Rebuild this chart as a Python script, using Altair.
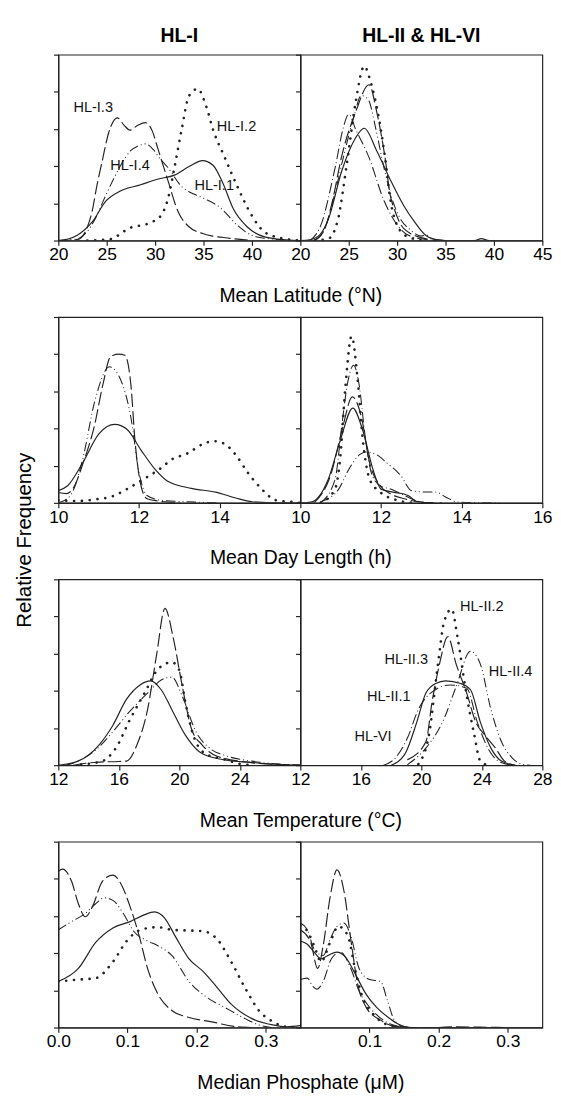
import altair as alt
import pandas as pd

# ---------------- data (x, relative frequency) ----------------
# Row 1: Mean latitude (°N)
lat_I1 = [(20,0),(21,0.04),(22,0.15),(23.5,0.5),(24.9,1.06),(26.3,1.32),(28.5,1.5),(30.25,1.65),(32,1.76),(33.5,1.99),(34.9,2.15),(36,2.02),(37,1.54),(38.1,0.84),(39.5,0.37),(41.3,0.1),(43.5,0.02),(45,0.0)]
lat_I2 = [(23.0,0.0),(25.25,0.03),(27.4,0.34),(29.5,0.48),(30.6,0.67),(31.3,1.1),(32.0,1.97),(32.75,3.0),(33.5,3.89),(34.4,4.08),(35.25,3.63),(36.0,2.97),(37.2,2.23),(38.5,1.45),(39.9,0.71),(41.3,0.23),(43.1,0.06),(45,0.0)]
lat_I3 = [(20,0),(22,0.03),(22.9,0.3),(23.5,0.8),(24,1.5),(24.5,2.1),(25.2,2.9),(26.1,3.3),(26.8,3.1),(27.4,2.97),(28.2,3.1),(29.0,3.17),(29.7,2.95),(30.25,2.5),(31.3,1.63),(32.4,0.76),(33.5,0.37),(34.9,0.19),(37.75,0.06),(40,0.0)]
lat_I4 = [(20,0),(22,0.05),(23.0,0.25),(23.8,0.58),(24.7,1.1),(25.6,1.6),(26.5,2.05),(27.4,2.4),(28.3,2.55),(29.0,2.6),(29.8,2.45),(30.5,2.2),(31.3,1.97),(32.75,1.45),(34.0,1.25),(34.9,1.15),(36.7,0.89),(38.5,0.41),(39.9,0.15),(41.7,0.05),(45,0.0)]
lat_II1 = [(20,0),(21,0.02),(22.0,0.15),(22.9,0.58),(24.3,1.89),(25.7,2.76),(26.6,3.02),(27.9,2.41),(29.3,1.63),(30.7,0.93),(31.8,0.5),(32.9,0.15),(33.9,0.03),(35,0),(38,0.0),(38.7,0.05),(39.5,0.0),(45,0)]
lat_II2 = [(21.5,0),(22.9,0.05),(23.9,0.58),(24.8,2.06),(25.7,3.7),(26.6,4.69),(27.3,4.23),(28.0,3.45),(28.75,2.23),(29.3,1.1),(30,0.41),(31.1,0.1),(32.9,0)]
lat_II3 = [(21.4,0),(22.5,0.3),(23.2,0.93),(24.3,2.3),(25.7,3.45),(27.1,4.19),(27.9,3.45),(28.75,2.23),(29.3,1.2),(29.7,0.85),(30.7,0.32),(32.9,0.05),(34,0)]
lat_II4 = [(21.5,0),(22.5,0.3),(23.5,1.2),(24.5,2.3),(25.5,3.3),(26.3,3.9),(27.0,3.8),(27.8,3.0),(28.6,2.0),(29.5,1.1),(30.3,0.6),(31.3,0.3),(32.5,0.12),(33.0,0.15),(33.6,0.05),(35,0)]
lat_VI = [(21,0),(22.1,0.4),(23.6,1.97),(24.5,3.1),(25.0,3.4),(25.7,3.0),(27.1,2.23),(28.6,1.1),(29.6,0.58),(31.1,0.15),(32.9,0.03),(34,0)]

# Row 2: Mean day length (h)
day_I1 = [(10,0.33),(10.23,0.46),(10.6,1.07),(11.0,1.85),(11.4,2.11),(11.7,1.98),(12.05,1.42),(12.4,0.9),(12.7,0.59),(13.3,0.39),(13.9,0.29),(14.4,0.13),(14.8,0.03),(15.5,0),(16,0)]
day_I2 = [(10,0.07),(10.5,0.05),(10.9,0.09),(11.35,0.18),(11.7,0.37),(12.1,0.63),(12.55,0.94),(12.8,1.16),(13.2,1.33),(13.6,1.59),(13.85,1.66),(14.1,1.6),(14.4,1.29),(14.7,0.81),(15.0,0.42),(15.4,0.07),(15.75,0.03),(16,0.0)]
day_I3 = [(10,0.28),(10.2,0.25),(10.4,0.45),(10.6,1.03),(10.9,2.1),(11.1,3.16),(11.3,3.94),(11.5,4.0),(11.65,3.97),(11.8,3.16),(11.9,1.68),(12.05,0.46),(12.2,0.11),(12.55,0.04),(13,0)]
day_I4 = [(10,0),(10.3,0.2),(10.6,1.16),(10.9,2.72),(11.27,3.66),(11.6,3.16),(11.8,2.29),(12.0,0.81),(12.2,0.2),(12.55,0.07),(13.2,0.03),(14,0)]
day_II1 = [(10,0),(10.26,0.02),(10.69,0.63),(10.99,1.68),(11.3,2.55),(11.55,1.94),(11.8,0.9),(12.0,0.37),(12.3,0.29),(12.67,0.2),(12.9,0.03),(13.3,0)]
day_II2 = [(10.5,0),(10.86,0.37),(10.99,1.24),(11.12,3.16),(11.27,4.48),(11.42,3.33),(11.55,1.68),(11.72,0.63),(11.98,0.29),(12.4,0.07),(12.8,0)]
day_II3 = [(10.34,0),(10.77,0.81),(11.03,1.94),(11.29,2.85),(11.5,2.37),(11.72,1.07),(11.98,0.46),(12.24,0.24),(12.58,0.11),(12.93,0.03),(13.3,0)]
day_II4 = [(10.5,0.03),(10.95,0.37),(11.2,0.9),(11.46,1.29),(11.63,1.37),(11.9,1.29),(12.15,1.07),(12.5,0.72),(12.75,0.33),(13.1,0.29),(13.36,0.29),(13.6,0.16),(13.87,0.03),(14.2,0.01),(15,0)]
day_VI = [(10.5,0),(10.86,0.63),(11.03,2.1),(11.16,3.16),(11.32,3.7),(11.46,3.16),(11.6,1.85),(11.76,0.81),(11.98,0.46),(12.24,0.37),(12.5,0.24),(12.84,0.07),(13.1,0.01),(13.5,0)]

# Row 3: Mean temperature (°C)
tmp_I1 = [(12,0),(13.3,0.11),(14.7,0.55),(15.6,1.07),(16.5,1.77),(17.4,2.16),(18.1,2.27),(18.8,2.03),(19.5,1.5),(20.4,0.81),(21.3,0.37),(22.5,0.18),(24.8,0.07),(27.1,0.01),(28,0)]
tmp_I2 = [(13.5,0.02),(14.9,0.11),(15.8,0.46),(16.75,1.24),(17.7,1.94),(18.6,2.59),(19.5,2.77),(20.0,2.55),(20.4,1.68),(21.0,0.72),(21.8,0.29),(22.95,0.16),(24.1,0.03),(25,0)]
tmp_I3 = [(13,0),(14.5,0.08),(16.0,0.1),(16.5,0.11),(17.2,0.55),(17.9,1.5),(18.5,2.98),(19.05,4.22),(19.6,3.42),(20.2,2.11),(20.8,0.98),(21.5,0.55),(22.5,0.24),(24.8,0.07),(28,0)]
tmp_I4 = [(12.5,0),(13.3,0.11),(14.5,0.42),(15.6,0.9),(16.75,1.46),(17.9,1.94),(18.8,2.29),(19.5,2.37),(20.2,1.85),(21.1,0.9),(22.0,0.46),(23.2,0.24),(24.8,0.11),(26.6,0.03),(28,0)]
tmp_II1 = [(18.0,0),(18.9,0.29),(19.7,1.16),(20.3,1.94),(20.95,2.2),(21.6,2.27),(22.6,2.2),(23.25,2.03),(23.9,1.16),(24.6,0.46),(25.3,0.11),(26.2,0)]
tmp_II2 = [(19.8,0.03),(20.5,0.81),(21.1,2.72),(21.5,3.85),(22.0,4.2),(22.4,3.42),(22.9,2.11),(23.5,0.81),(23.9,0.11),(24.4,0)]
tmp_II3 = [(19.1,0.15),(20.3,0.63),(20.7,1.68),(21.2,2.72),(21.75,3.46),(22.3,2.72),(23.0,1.94),(23.6,1.16),(24.2,0.81),(24.9,0.46),(25.5,0.11),(26.2,0)]
tmp_II4 = [(19.1,0.02),(20.3,0.46),(21.4,1.16),(22.3,2.11),(23.25,3.07),(23.9,2.72),(24.6,1.5),(25.3,0.63),(26.0,0.2),(26.7,0.02),(27.2,0)]
tmp_VI = [(17.5,0.0),(18.2,0.16),(19.1,0.75),(19.8,1.5),(20.5,1.9),(21.9,2.16),(23.0,2.07),(23.7,1.16),(24.4,0.46),(25.1,0.11),(26,0)]

# Row 4: Median phosphate (µM)
pho_I1 = [(0,1.24),(0.029,1.59),(0.054,2.29),(0.079,2.68),(0.104,2.85),(0.124,3.03),(0.139,3.11),(0.154,2.94),(0.169,2.46),(0.189,1.85),(0.21,1.5),(0.23,1.07),(0.25,0.63),(0.28,0.24),(0.31,0.07),(0.33,0.02),(0.35,0.05)]
pho_I2 = [(0,1.24),(0.029,1.29),(0.054,1.33),(0.079,1.77),(0.099,2.33),(0.119,2.63),(0.144,2.7),(0.164,2.63),(0.189,2.61),(0.21,2.59),(0.23,2.37),(0.25,1.77),(0.27,1.07),(0.29,0.46),(0.31,0.16),(0.33,0.02),(0.35,0)]
pho_I3 = [(0,4.2),(0.006,4.26),(0.019,3.94),(0.029,3.33),(0.039,2.98),(0.049,3.24),(0.064,3.94),(0.079,4.1),(0.091,3.85),(0.104,3.24),(0.117,2.46),(0.129,1.59),(0.144,0.9),(0.164,0.46),(0.189,0.27),(0.22,0.16),(0.255,0.03),(0.28,0)]
pho_I4 = [(0,2.63),(0.019,2.85),(0.039,3.07),(0.054,3.33),(0.066,3.49),(0.079,3.42),(0.094,3.07),(0.109,2.59),(0.129,2.33),(0.144,2.2),(0.164,1.94),(0.189,1.24),(0.215,0.81),(0.24,0.55),(0.27,0.24),(0.29,0.07),(0.31,0)]
pho_II1 = [(0,2.33),(0.01,2.24),(0.02,2.03),(0.03,1.85),(0.04,1.94),(0.053,2.03),(0.065,1.9),(0.08,1.42),(0.095,0.9),(0.11,0.55),(0.126,0.29),(0.14,0.11),(0.16,0.0),(0.35,0)]
pho_II2 = [(0,2.75),(0.01,2.6),(0.02,2.2),(0.03,1.77),(0.043,2.29),(0.055,2.72),(0.068,2.5),(0.08,1.5),(0.09,0.81),(0.105,0.37),(0.13,0.05),(0.15,0)]
pho_II3 = [(0,2.63),(0.015,2.29),(0.025,1.59),(0.033,2.2),(0.043,3.5),(0.053,4.24),(0.063,3.68),(0.073,2.37),(0.083,1.16),(0.095,0.55),(0.116,0.2),(0.136,0.03),(0.16,0),(0.2,0),(0.22,0.02),(0.26,0.01),(0.3,0)]
pho_II4 = [(0,2.81),(0.01,2.63),(0.02,2.11),(0.033,1.94),(0.043,2.37),(0.053,2.72),(0.063,2.81),(0.073,2.46),(0.085,1.59),(0.1,1.29),(0.116,1.24),(0.126,0.72),(0.136,0.2),(0.15,0.02),(0.17,0)]
pho_VI = [(0,1.29),(0.01,1.33),(0.018,1.11),(0.024,1.03),(0.033,1.24),(0.045,1.85),(0.058,2.03),(0.073,1.59),(0.085,0.98),(0.1,0.55),(0.12,0.2),(0.146,0.02),(0.16,0)]

# curve annotations (label, x, y)
labels_lat_left = [("HL-I.3", 23.6, 3.6), ("HL-I.2", 38.4, 3.08), ("HL-I.4", 27.4, 2.03), ("HL-I.1", 36.1, 1.5)]
labels_tmp_right = [("HL-II.2", 24.0, 4.29), ("HL-II.3", 19.0, 2.85), ("HL-II.4", 25.9, 2.53), ("HL-II.1", 17.85, 1.85), ("HL-VI", 16.8, 0.77)]

COL_TITLES = ["HL-I", "HL-II & HL-VI"]
Y_TITLE = "Relative Frequency"

style_of = {"HL-I.1": "solid", "HL-I.2": "dot", "HL-I.3": "dash", "HL-I.4": "dashdotdot",
            "HL-II.1": "solid", "HL-II.2": "dot", "HL-II.3": "dash", "HL-II.4": "dashdotdot", "HL-VI": "dashdot"}

rows = [
    dict(title="Mean Latitude (°N)", dom=[20, 45], lv=[20, 25, 30, 35, 40], rv=[20, 25, 30, 35, 40, 45], fmt="d",
         left={"HL-I.1": lat_I1, "HL-I.2": lat_I2, "HL-I.3": lat_I3, "HL-I.4": lat_I4},
         right={"HL-II.1": lat_II1, "HL-II.2": lat_II2, "HL-II.3": lat_II3, "HL-II.4": lat_II4, "HL-VI": lat_VI},
         llab=labels_lat_left, rlab=None),
    dict(title="Mean Day Length (h)", dom=[10, 16], lv=[10, 12, 14], rv=[10, 12, 14, 16], fmt="d",
         left={"HL-I.1": day_I1, "HL-I.2": day_I2, "HL-I.3": day_I3, "HL-I.4": day_I4},
         right={"HL-II.1": day_II1, "HL-II.2": day_II2, "HL-II.3": day_II3, "HL-II.4": day_II4, "HL-VI": day_VI},
         llab=None, rlab=None),
    dict(title="Mean Temperature (°C)", dom=[12, 28], lv=[12, 16, 20, 24], rv=[12, 16, 20, 24, 28], fmt="d",
         left={"HL-I.1": tmp_I1, "HL-I.2": tmp_I2, "HL-I.3": tmp_I3, "HL-I.4": tmp_I4},
         right={"HL-II.1": tmp_II1, "HL-II.2": tmp_II2, "HL-II.3": tmp_II3, "HL-II.4": tmp_II4, "HL-VI": tmp_VI},
         llab=None, rlab=labels_tmp_right),
    dict(title="Median Phosphate (μM)", dom=[0, 0.35], lv=[0.0, 0.1, 0.2, 0.3], rv=[0.1, 0.2, 0.3], fmt=".1f",
         left={"HL-I.1": pho_I1, "HL-I.2": pho_I2, "HL-I.3": pho_I3, "HL-I.4": pho_I4},
         right={"HL-II.1": pho_II1, "HL-II.2": pho_II2, "HL-II.3": pho_II3, "HL-II.4": pho_II4, "HL-VI": pho_VI},
         llab=None, rlab=None),
]

FONT = "Liberation Sans"
INK = "#222222"
W, H = 250, 192
# line style -> (dash pattern, stroke width)
STYLE_PROPS = {
    "solid": (None, 1.2),
    "dot": ([0.1, 8], 2.7),
    "dash": ([13, 5], 1.2),
    "dashdotdot": ([9, 4, 0.1, 4, 0.1, 4], 1.1),
    "dashdot": ([10, 4, 0.1, 4], 1.1),
}


def to_df(series):
    recs = []
    for name, pts in series.items():
        for i, (x, y) in enumerate(pts):
            recs.append({"series": name, "style": style_of[name], "x": x, "y": y, "i": i})
    return pd.DataFrame(recs)


def panel(series, dom, vals, fmt, xtitle=None, coltitle=None, labels=None):
    xs = alt.Scale(domain=dom, nice=False, zero=False)
    ys = alt.Scale(domain=[0, 5], nice=False)
    ax = dict(values=vals, format=fmt, tickSize=5, labelPadding=1, labelFontSize=18, labelFont=FONT,
              grid=False, labelFlush=False)
    if xtitle:
        ax.update(title=xtitle, titleX=W, titleAlign="center", titlePadding=23, titleFontSize=20,
                  titleFontWeight="normal", titleFont=FONT, titleColor="#000")
    else:
        ax.update(title=None)
    X = alt.X("x:Q", scale=xs, axis=alt.Axis(**ax))
    Y = alt.Y("y:Q", scale=ys, axis=alt.Axis(values=[0, 1, 2, 3, 4, 5], labels=False, tickSize=5,
                                             title=None, grid=False))
    df = to_df(series)
    layers = []
    for st, (dash, sw) in STYLE_PROPS.items():
        sub = df[df["style"] == st]
        if sub.empty:
            continue
        mk = dict(interpolate="monotone", strokeCap="round", color=INK, clip=True, strokeWidth=sw)
        if dash:
            mk["strokeDash"] = dash
        layers.append(alt.Chart(sub).mark_line(**mk).encode(x=X, y=Y, detail="series:N", order="i:Q"))
    if labels:
        ldf = pd.DataFrame(labels, columns=["label", "x", "y"])
        layers.append(alt.Chart(ldf).mark_text(fontSize=15, font=FONT, color="#111").encode(
            x=X, y=Y, text="label:N"))
    if coltitle:
        tdf = pd.DataFrame({"t": [coltitle]})
        layers.append(alt.Chart(tdf).mark_text(fontSize=20, fontWeight="bold", font=FONT, color="#000",
                                               baseline="middle", align="center").encode(
            x=alt.value(W / 2), y=alt.value(-19), text="t:N"))
    return alt.layer(*layers).properties(width=W, height=H)


panels = []
for r_i, r in enumerate(rows):
    panels.append(panel(r["left"], r["dom"], r["lv"], r["fmt"], xtitle=r["title"],
                        coltitle=COL_TITLES[0] if r_i == 0 else None, labels=r["llab"]))
    panels.append(panel(r["right"], r["dom"], r["rv"], r["fmt"],
                        coltitle=COL_TITLES[1] if r_i == 0 else None, labels=r["rlab"]))

chart = alt.concat(*panels, columns=2, spacing=alt.RowColnumber(row=79, column=0), bounds="flush").properties(
    title=alt.TitleParams(Y_TITLE, orient="left", anchor="middle", fontSize=21, dx=20,
                          fontWeight="normal", font=FONT, offset=11, color="#000"),
    padding={"left": 6, "top": 0, "right": 0, "bottom": 0},
).configure(font=FONT).configure_view(stroke=INK, strokeWidth=1.2).configure_axis(
    domainColor=INK, tickColor=INK, labelColor="#000", domainWidth=1.2, tickWidth=1.2
)

chart.save("out.html", embed_options={"renderer": "svg", "actions": False})
